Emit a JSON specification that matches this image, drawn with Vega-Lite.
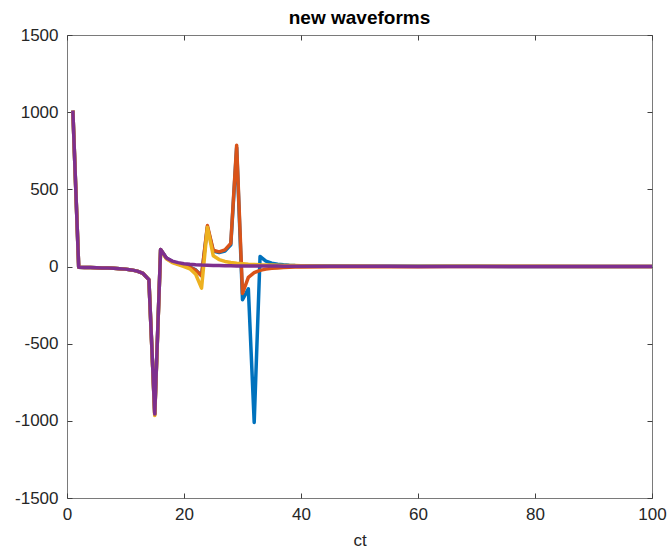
{
  "$schema": "https://vega.github.io/schema/vega-lite/v6.json",
  "width": 585,
  "height": 463,
  "autosize": {"type": "none"},
  "padding": {"left": 67, "top": 35, "right": 18, "bottom": 57},
  "background": "white",
  "title": {"text": "new waveforms", "fontSize": 19, "fontWeight": "bold", "font": "Liberation Sans", "color": "#000000", "offset": -2, "anchor": "middle"},
  "config": {
    "view": {"stroke": "#7a7a7a", "strokeWidth": 1},
    "axis": {
      "grid": false,
      "domain": false,
      "tickColor": "#404040",
      "tickSize": 5,
      "labelFlush": false,
      "labelColor": "#262626",
      "labelFont": "Liberation Sans",
      "labelFontSize": 17,
      "titleFont": "Liberation Sans",
      "titleFontSize": 17,
      "titleFontWeight": "normal",
      "titleColor": "#262626"
    }
  },
  "data": {
    "values": [
      {"ct": 1, "a": 1010, "b": 1010, "c": 1010, "d": 1010},
      {"ct": 2, "a": -5, "b": -5, "c": -5, "d": -5},
      {"ct": 3, "a": -6, "b": -6, "c": -6, "d": -6},
      {"ct": 4, "a": -7, "b": -7, "c": -7, "d": -7},
      {"ct": 5, "a": -8, "b": -8, "c": -8, "d": -8},
      {"ct": 6, "a": -9, "b": -9, "c": -9, "d": -9},
      {"ct": 7, "a": -10, "b": -10, "c": -10, "d": -10},
      {"ct": 8, "a": -12, "b": -12, "c": -12, "d": -12},
      {"ct": 9, "a": -14, "b": -14, "c": -14, "d": -14},
      {"ct": 10, "a": -17, "b": -17, "c": -17, "d": -17},
      {"ct": 11, "a": -22, "b": -22, "c": -22, "d": -22},
      {"ct": 12, "a": -30, "b": -30, "c": -30, "d": -30},
      {"ct": 13, "a": -45, "b": -45, "c": -45, "d": -45},
      {"ct": 14, "a": -85, "b": -85, "c": -85, "d": -85},
      {"ct": 15, "a": -955, "b": -962, "c": -965, "d": -955},
      {"ct": 16, "a": 110, "b": 110, "c": 105, "d": 110},
      {"ct": 17, "a": 55, "b": 52, "c": 50, "d": 55},
      {"ct": 18, "a": 32, "b": 30, "c": 25, "d": 35},
      {"ct": 19, "a": 18, "b": 16, "c": 12, "d": 25},
      {"ct": 20, "a": 8, "b": 6, "c": 0, "d": 18},
      {"ct": 21, "a": -3, "b": -5, "c": -15, "d": 14},
      {"ct": 22, "a": -22, "b": -25, "c": -50, "d": 11},
      {"ct": 23, "a": -60, "b": -60, "c": -140, "d": 9},
      {"ct": 24, "a": 255, "b": 265, "c": 255, "d": 8},
      {"ct": 25, "a": 100, "b": 105, "c": 70, "d": 7},
      {"ct": 26, "a": 90, "b": 95, "c": 45, "d": 6},
      {"ct": 27, "a": 100, "b": 108, "c": 33, "d": 5},
      {"ct": 28, "a": 140, "b": 150, "c": 26, "d": 5},
      {"ct": 29, "a": 770, "b": 785, "c": 21, "d": 4},
      {"ct": 30, "a": -215, "b": -175, "c": 18, "d": 4},
      {"ct": 31, "a": -145, "b": -70, "c": 15, "d": 4},
      {"ct": 32, "a": -1010, "b": -40, "c": 13, "d": 3},
      {"ct": 33, "a": 65, "b": -25, "c": 11, "d": 3},
      {"ct": 34, "a": 35, "b": -17, "c": 10, "d": 3},
      {"ct": 35, "a": 22, "b": -12, "c": 9, "d": 3},
      {"ct": 36, "a": 15, "b": -9, "c": 8, "d": 3},
      {"ct": 37, "a": 11, "b": -7, "c": 7, "d": 2},
      {"ct": 38, "a": 8, "b": -5, "c": 6, "d": 2},
      {"ct": 39, "a": 6, "b": -4, "c": 6, "d": 2},
      {"ct": 40, "a": 5, "b": -3, "c": 5, "d": 2},
      {"ct": 45, "a": 3, "b": -2, "c": 4, "d": 1},
      {"ct": 50, "a": 2, "b": -1, "c": 3, "d": 1},
      {"ct": 55, "a": 2, "b": -1, "c": 2, "d": 1},
      {"ct": 60, "a": 1, "b": -1, "c": 2, "d": 0},
      {"ct": 65, "a": 1, "b": 0, "c": 1, "d": 0},
      {"ct": 70, "a": 1, "b": 0, "c": 1, "d": 0},
      {"ct": 80, "a": 0, "b": 0, "c": 1, "d": 0},
      {"ct": 90, "a": 0, "b": 0, "c": 0, "d": 0},
      {"ct": 100, "a": 0, "b": 0, "c": 0, "d": 0}
    ]
  },
  "transform": [{"fold": ["a", "b", "c", "d"], "as": ["series", "value"]}],
  "layer": [
    {
      "mark": {"type": "line", "strokeWidth": 3.5, "clip": true, "strokeJoin": "round"},
      "encoding": {
        "x": {"field": "ct", "type": "quantitative", "scale": {"domain": [0, 100], "nice": false},
              "axis": {"orient": "bottom", "values": [0, 20, 40, 60, 80, 100], "title": "ct", "tickSize": -5, "labelPadding": 13, "titlePadding": 10}},
        "y": {"field": "value", "type": "quantitative", "scale": {"domain": [-1500, 1500], "nice": false},
              "axis": {"orient": "left", "values": [-1500, -1000, -500, 0, 500, 1000, 1500], "title": null, "tickSize": -5, "labelExpr": "'' + datum.value", "labelPadding": 14}},
        "color": {"field": "series", "type": "nominal",
                  "scale": {"domain": ["a", "b", "c", "d"], "range": ["#0072BD", "#D95319", "#EDB120", "#7E2F8E"]},
                  "legend": null}
      }
    },
    {
      "mark": {"type": "line", "opacity": 0},
      "encoding": {
        "x": {"field": "ct", "type": "quantitative", "scale": {"domain": [0, 100], "nice": false},
              "axis": {"orient": "bottom", "offset": -463, "values": [0, 20, 40, 60, 80, 100], "labels": false, "title": null}},
        "y": {"field": "value", "type": "quantitative", "scale": {"domain": [-1500, 1500], "nice": false},
              "axis": {"orient": "left", "offset": -585, "values": [-1500, -1000, -500, 0, 500, 1000, 1500], "labels": false, "title": null}},
        "detail": {"field": "series"}
      }
    }
  ],
  "resolve": {"axis": {"x": "independent", "y": "independent"}}
}
